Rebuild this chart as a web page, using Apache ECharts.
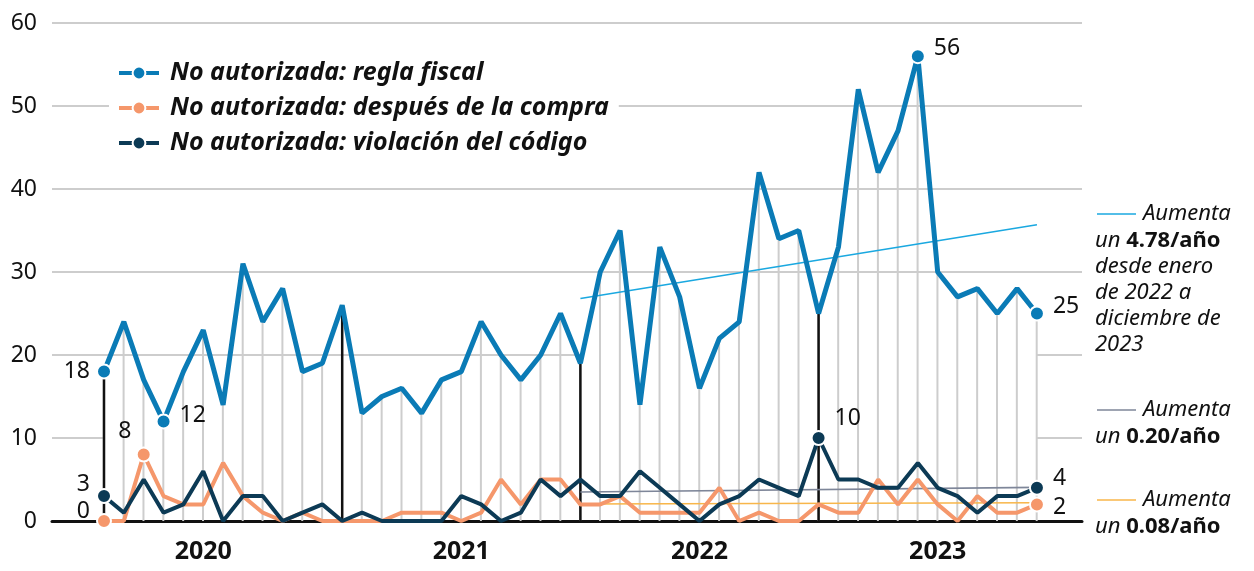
<!DOCTYPE html>
<html>
<head>
<meta charset="utf-8">
<script src="https://cdn.jsdelivr.net/npm/echarts@6/dist/echarts.min.js"></script>
<style>
  html, body { margin: 0; padding: 0; background: #fff; }
  #chart { width: 1254px; height: 571px; }
</style>
</head>
<body>
<div id="chart"></div>
<script>
  // meses ene 2020 - dic 2023 (índice 0..47)
  const months = [
    '2020-01','2020-02','2020-03','2020-04','2020-05','2020-06','2020-07','2020-08','2020-09','2020-10','2020-11','2020-12',
    '2021-01','2021-02','2021-03','2021-04','2021-05','2021-06','2021-07','2021-08','2021-09','2021-10','2021-11','2021-12',
    '2022-01','2022-02','2022-03','2022-04','2022-05','2022-06','2022-07','2022-08','2022-09','2022-10','2022-11','2022-12',
    '2023-01','2023-02','2023-03','2023-04','2023-05','2023-06','2023-07','2023-08','2023-09','2023-10','2023-11','2023-12'
  ];
  const yearLabels = ['2020', '2021', '2022', '2023'];
  const yearLabelAt = [5, 18, 30, 42];
  const yearStarts = [0, 12, 24, 36];

  const names = [
    'No autorizada: regla fiscal',
    'No autorizada: después de la compra',
    'No autorizada: violación del código'
  ];
  const reglaFiscal = [18,24,17,12,18,23,14,31,24,28,18,19,26,13,15,16,13,17,18,24,20,17,20,25,
                       19,30,35,14,33,27,16,22,24,42,34,35,25,33,52,42,47,56,30,27,28,25,28,25];
  const despuesCompra = [0,0,8,3,2,2,7,3,1,0,1,0,0,0,0,1,1,1,0,1,5,2,5,5,
                         2,2,3,1,1,1,1,4,0,1,0,0,2,1,1,5,2,5,2,0,3,1,1,2];
  const violacionCodigo = [3,1,5,1,2,6,0,3,3,0,1,2,0,1,0,0,0,0,3,2,0,1,5,3,
                           5,3,3,6,4,2,0,2,3,5,4,3,10,5,5,4,4,7,4,3,1,3,3,4];

  // tendencias ene 2022 - dic 2023
  const trendFiscal = [[24, 26.8], [47, 35.7]];
  const trendViolacion = [[24, 3.5], [47, 4.05]];
  const trendCompra = [[24, 2.05], [47, 2.2]];

  const blue = '#0a7bb6', orange = '#f5976b', navy = '#0c3a55';
  const font = 'Noto Sans';

  // puntos con etiqueta: indice -> posicion
  const blueMarks = { 0: ['left', [0, 0]], 3: ['right', [2, -6]], 41: ['right', [2, -8]], 47: ['right', [2, -7]] };
  const orangeMarks = { 0: ['left', [0, -10]], 2: ['top', [-19, 2]], 47: ['right', [2, 3]] };
  const navyMarks = { 0: ['left', [0, -12]], 36: ['right', [2, -20]], 47: ['right', [2, -9]] };

  function buildData(values, marks) {
    return values.map((v, i) => {
      const item = { value: [i, v] };
      if (marks[i]) {
        item.symbolSize = 14;
        item.label = {
          show: true, position: marks[i][0], offset: marks[i][1], distance: 6,
          fontSize: 23, color: '#111', fontFamily: font, formatter: String(v)
        };
      }
      return item;
    });
  }

  function lineSeries(name, values, color, marks, width) {
    return {
      name: name, type: 'line', z: 4,
      data: buildData(values, marks),
      symbol: 'circle', symbolSize: 0, showAllSymbol: true,
      lineStyle: { color: color, width: width },
      itemStyle: { color: color, borderColor: '#fff', borderWidth: 2 },
      emphasis: { disabled: true },
      animation: false
    };
  }

  function trendSeries(data, color) {
    return {
      type: 'line', data: data, symbol: 'none', silent: true, z: 3,
      lineStyle: { color: color, width: 1.6 }, animation: false
    };
  }

  const notes = [
    { color: '#1aa8e0', y: 214, rate: '4.78/año', more: ['desde enero', 'de 2022 a', 'diciembre de', '2023'] },
    { color: '#7e8699', y: 410, rate: '0.20/año', more: [] },
    { color: '#f8b64a', y: 500, rate: '0.08/año', more: [] }
  ];
  const graphic = [];
  notes.forEach(n => {
    graphic.push({
      type: 'line', shape: { x1: 1097, y1: n.y, x2: 1136, y2: n.y },
      style: { stroke: n.color, lineWidth: 1.6 }
    });
    graphic.push({
      type: 'text', x: 1143, y: n.y,
      style: { text: 'Aumenta', fontFamily: font, fontStyle: 'italic', fontSize: 22, fill: '#111', verticalAlign: 'middle' }
    });
    let txt = '{i|un} {b|' + n.rate + '}';
    n.more.forEach(m => { txt += '\n{i|' + m + '}'; });
    graphic.push({
      type: 'text', x: 1095, y: n.y + 14,
      style: {
        text: txt, fontFamily: font, fontSize: 22, fill: '#111', verticalAlign: 'top',
        rich: {
          i: { fontFamily: font, fontStyle: 'italic', fontSize: 22, lineHeight: 26, fill: '#111' },
          b: { fontFamily: font, fontWeight: 'bold', fontSize: 22, lineHeight: 26, fill: '#111' }
        }
      }
    });
  });

  const option = {
    backgroundColor: '#fff',
    animation: false,
    textStyle: { fontFamily: font },
    grid: { left: 52, right: 172, top: 23, bottom: 50 },
    legend: {
      data: names,
      orient: 'vertical',
      left: 109, top: 55,
      padding: [4, 10, 4, 8],
      backgroundColor: '#fff',
      itemWidth: 40, itemHeight: 16, itemGap: 7,
      lineStyle: { width: 4 },
      itemStyle: { borderColor: '#fff', borderWidth: 2 },
      textStyle: { fontFamily: font, fontStyle: 'italic', fontWeight: 'bold', fontSize: 25, color: '#111', lineHeight: 28, padding: [0, 0, 0, 6] }
    },
    xAxis: {
      type: 'value', min: -2.62, max: 49.27,
      splitLine: { show: false },
      axisTick: { show: false },
      axisLine: { lineStyle: { color: '#111', width: 3 } },
      axisLabel: {
        customValues: yearLabelAt,
        formatter: v => yearLabels[yearLabelAt.indexOf(v)],
        fontFamily: font, fontWeight: 'bold', fontSize: 25, color: '#111', margin: 18
      }
    },
    yAxis: {
      type: 'value', min: 0, max: 60, interval: 10,
      axisLine: { show: false },
      axisTick: { show: false },
      axisLabel: { fontFamily: font, fontSize: 23, color: '#111', margin: 15 },
      splitLine: { lineStyle: { color: '#bdbdbd', width: 1.5 } }
    },
    graphic: graphic,
    series: [
      {
        type: 'bar', barWidth: 2, barGap: '-100%', silent: true, z: 2,
        data: reglaFiscal.map((v, i) => [i, v]),
        itemStyle: { color: '#cdcdcd' },
        // la cuadricula queda tapada bajo la linea azul en 10 y (2022-2023) en 20
        markArea: {
          silent: true,
          itemStyle: { color: '#fff' },
          data: [
            [{ coord: [0, 9.6] }, { coord: [47, 10.4] }],
            [{ coord: [24, 19.6] }, { coord: [47, 20.4] }]
          ]
        }
      },
      {
        type: 'bar', barWidth: 2.5, barGap: '-100%', silent: true, z: 2,
        data: yearStarts.map(i => [i, reglaFiscal[i]]),
        itemStyle: { color: '#111' }
      },
      trendSeries(trendFiscal, '#1aa8e0'),
      trendSeries(trendViolacion, '#7e8699'),
      trendSeries(trendCompra, '#f8b64a'),
      lineSeries(names[1], despuesCompra, orange, orangeMarks, 4),
      lineSeries(names[2], violacionCodigo, navy, navyMarks, 4),
      lineSeries(names[0], reglaFiscal, blue, blueMarks, 5)
    ]
  };

  const chart = echarts.init(document.getElementById('chart'));
  chart.setOption(option);
</script>
</body>
</html>
